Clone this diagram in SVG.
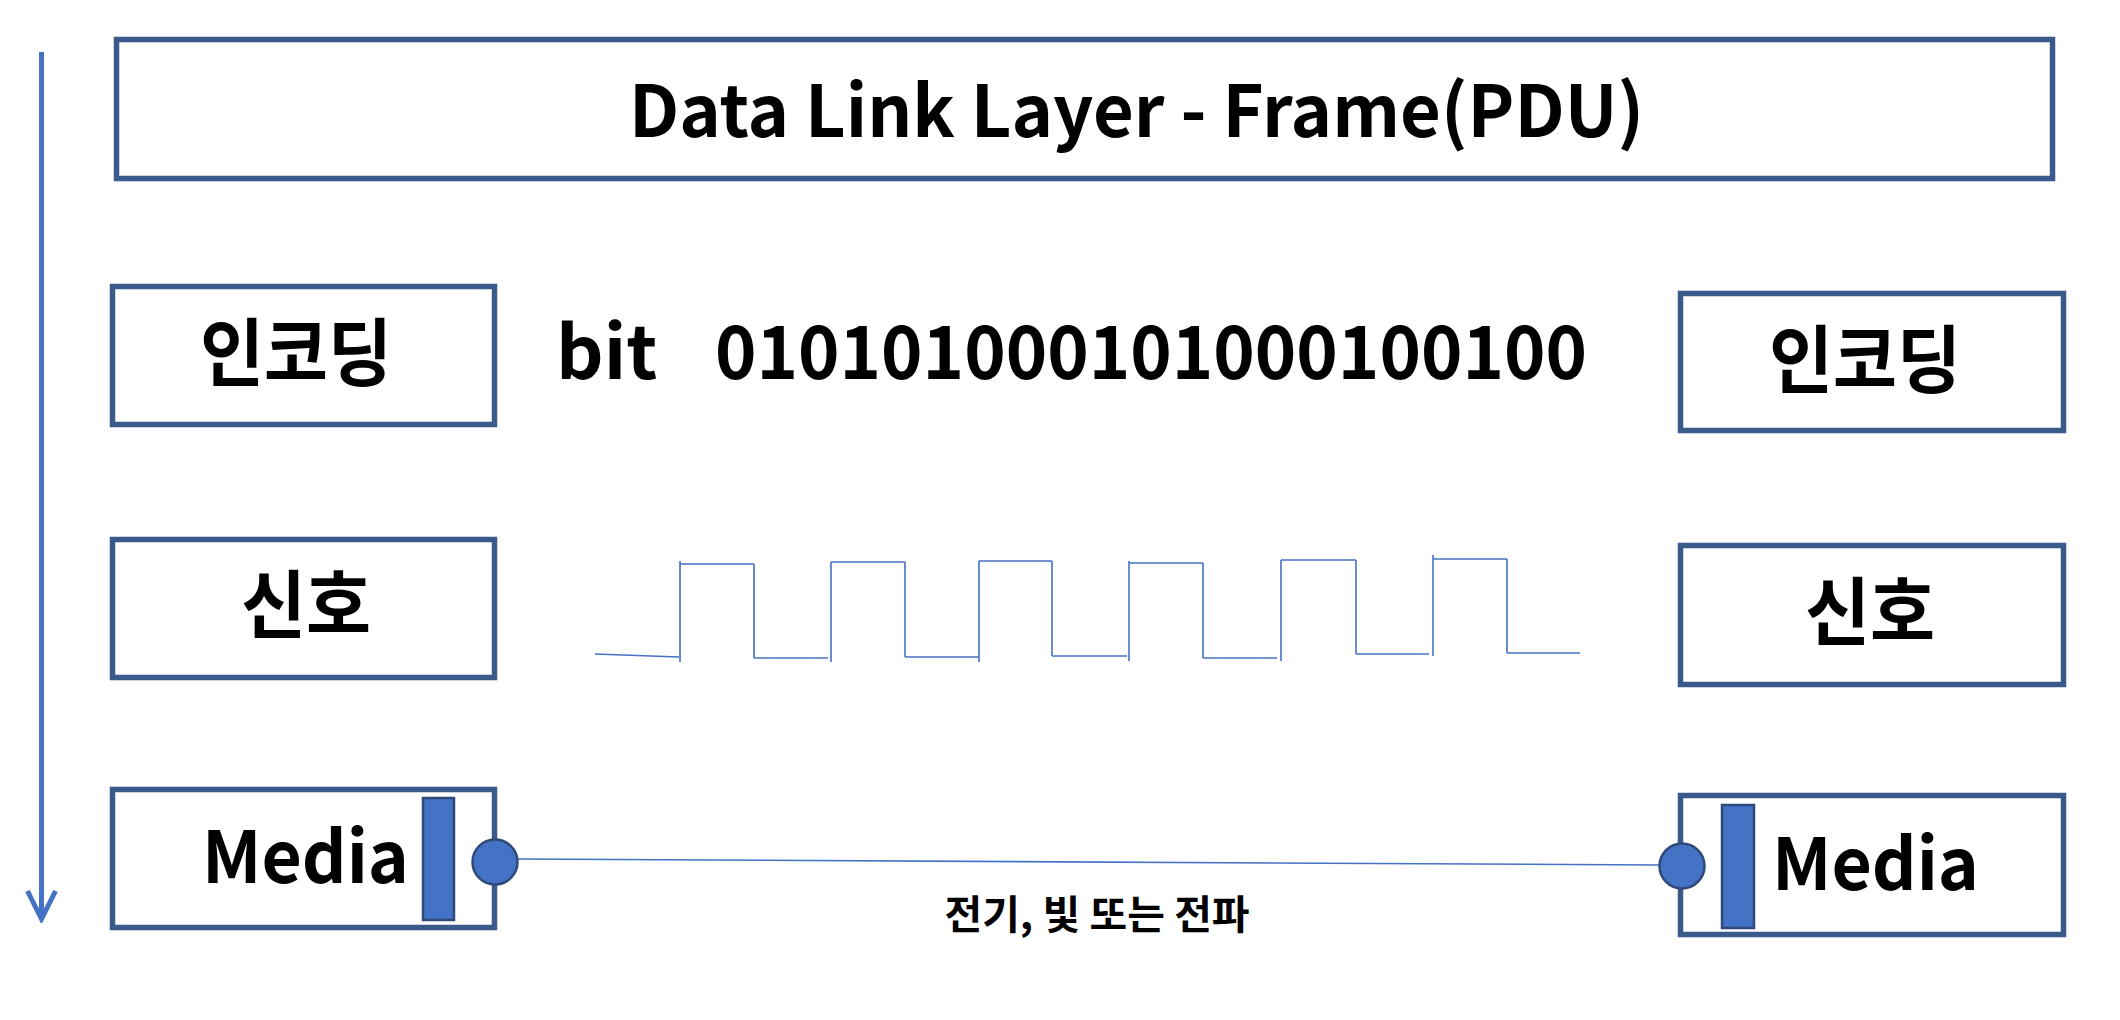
<svg xmlns="http://www.w3.org/2000/svg" width="2120" height="1020" viewBox="0 0 2120 1020">
<style>
.box{fill:#ffffff;stroke:#3A5A8C;stroke-width:5.5}
.t{font-family:"Noto Sans CJK KR","Noto Sans",sans-serif;font-weight:bold;fill:#000000}
.wire{fill:none;stroke:#4472C4;stroke-width:1.6}
.port{fill:#4472C4;stroke:#2F4A7A;stroke-width:2.5}
</style>
<defs>
<marker id="vhead" markerUnits="userSpaceOnUse" viewBox="-32 -18 36 36" markerWidth="36" markerHeight="36" refX="0" refY="0" orient="auto">
<path d="M-28,-14 L0,0 L-28,14" fill="none" stroke="#4472C4" stroke-width="5" stroke-linejoin="miter"/>
</marker>
</defs>
<rect width="2120" height="1020" fill="#ffffff"/>

<g id="connectors">
<line x1="41.5" y1="52" x2="41.5" y2="919" stroke="#4472C4" stroke-width="5" marker-end="url(#vhead)"/>
<line x1="518" y1="859" x2="1659" y2="865" class="wire"/>
<path class="wire" d="M595,654 L679,657 M680,561 L680,662 M680,564 L754,564 M754,564 L754,658 M754,658 L828,658 M831,562 L831,662 M831,562 L905,562 M905,562 L905,657 M905,657 L979,657 M979,561 L979,662 M979,561 L1052,561 M1052,561 L1052,656 M1052,656 L1127,656 M1129,561 L1129,661 M1129,563 L1203,563 M1203,563 L1203,658 M1203,658 L1277,658 M1281,560 L1281,661 M1281,560 L1356,560 M1356,560 L1356,654 M1356,654 L1429,654 M1433,555 L1433,656 M1433,559 L1507,559 M1507,559 L1507,653 M1507,653 L1580,653"/>
</g>

<g id="title">
<rect class="box" x="116.5" y="39.5" width="1936" height="139"/>
<text class="t" x="629" y="137" font-size="72" textLength="1015" lengthAdjust="spacingAndGlyphs">Data Link Layer - Frame(PDU)</text>
</g>

<g id="encoding-left">
<rect class="box" x="112.5" y="286.5" width="382" height="138"/>
<text class="t" x="296" y="380" font-size="74" text-anchor="middle" textLength="192" lengthAdjust="spacingAndGlyphs">인코딩</text>
</g>

<g id="bits">
<text class="t" x="556" y="379" font-size="74">bit</text>
<text class="t" x="715" y="379" font-size="74" textLength="872" lengthAdjust="spacingAndGlyphs">010101000101000100100</text>
</g>

<g id="encoding-right">
<rect class="box" x="1680.5" y="293.5" width="383" height="137"/>
<text class="t" x="1865" y="387" font-size="74" text-anchor="middle" textLength="192" lengthAdjust="spacingAndGlyphs">인코딩</text>
</g>

<g id="signal-left">
<rect class="box" x="112.5" y="539.5" width="382" height="138"/>
<text class="t" x="306" y="632" font-size="74" text-anchor="middle" textLength="130" lengthAdjust="spacingAndGlyphs">신호</text>
</g>

<g id="signal-right">
<rect class="box" x="1680.5" y="545.5" width="383" height="139"/>
<text class="t" x="1870" y="639" font-size="74" text-anchor="middle" textLength="130" lengthAdjust="spacingAndGlyphs">신호</text>
</g>

<g id="media-left">
<rect class="box" x="112.5" y="789.5" width="382" height="138"/>
<text class="t" x="202" y="883" font-size="72" textLength="207" lengthAdjust="spacingAndGlyphs">Media</text>
<rect class="port" x="423" y="798" width="31" height="122"/>
<circle class="port" cx="495" cy="862" r="22.5"/>
</g>

<g id="media-right">
<rect class="box" x="1680.5" y="795.5" width="383" height="139"/>
<rect class="port" x="1722" y="805" width="32" height="123"/>
<circle class="port" cx="1682" cy="866" r="22.5"/>
<text class="t" x="1772" y="890" font-size="72" textLength="207" lengthAdjust="spacingAndGlyphs">Media</text>
</g>

<g id="medium-label">
<text class="t" x="1097" y="929" font-size="40" text-anchor="middle" textLength="305" lengthAdjust="spacingAndGlyphs">전기, 빛 또는 전파</text>
</g>
</svg>
